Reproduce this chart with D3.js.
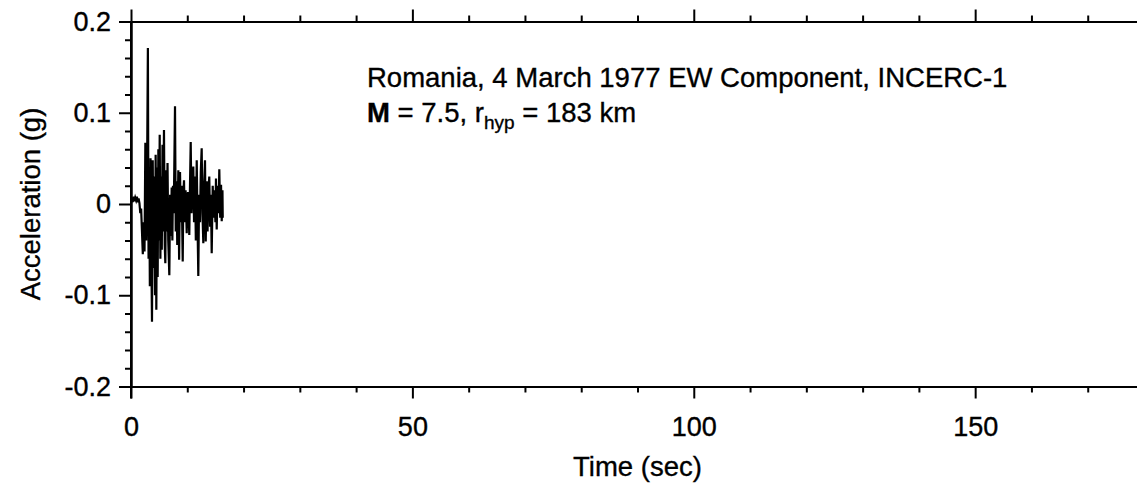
<!DOCTYPE html>
<html>
<head>
<meta charset="utf-8">
<script src="https://cdn.jsdelivr.net/npm/d3@7/dist/d3.min.js"></script>
<style>
  html, body { margin: 0; padding: 0; background: #fff; }
  svg { display: block; }
  text { font-family: "Liberation Sans", Arial, Helvetica, sans-serif; fill: #000; stroke: #000; stroke-width: 0.35px; }
</style>
</head>
<body>
<svg id="chart" width="1137" height="485"></svg>
<script>
// Accelerogram: Vrancea earthquake, 4 March 1977, EW component at INCERC-1 (Bucharest)
const timeSec = [
  0.00, 0.15, 0.30, 0.45, 0.60, 0.75, 0.90, 1.05, 1.20, 1.35,
  1.50, 1.65, 1.80, 1.95, 2.10, 2.25, 2.40, 2.55, 2.70, 2.85,
  3.00, 3.12, 3.25, 3.35, 3.47, 3.60, 3.73, 3.86, 4.00, 4.12,
  4.27, 4.38, 4.50, 4.62, 4.74, 4.86, 4.98, 5.10, 5.22, 5.35,
  5.47, 5.60, 5.72, 5.86, 6.00, 6.10, 6.22, 6.35, 6.49, 6.62,
  6.81, 6.95, 7.08, 7.23, 7.35, 7.46, 7.60, 7.82, 7.95, 8.09,
  8.22, 8.41, 8.55, 8.71, 8.85, 9.00, 9.19, 9.30, 9.42, 9.55,
  9.70, 9.90, 10.00, 10.13, 10.25, 10.36, 10.48, 10.61, 10.75, 10.90,
  11.07, 11.20, 11.37, 11.52, 11.68, 11.82, 11.96, 12.10, 12.26, 12.40,
  12.56, 12.70, 12.85, 13.00, 13.15, 13.28, 13.45, 13.60, 13.75, 13.91,
  14.05, 14.20, 14.34, 14.52, 14.68, 14.84, 15.00, 15.10, 15.23, 15.38,
  15.55, 15.69, 15.85, 16.00, 16.12, 16.25, 16.30
];
const accelG = [
  0.004, 0.007, 0.002, 0.008, 0.003, 0.007, 0.004, 0.008, 0.002, 0.006,
  0.001, -0.010, -0.005, -0.030, -0.055, -0.020, -0.052, 0.067, -0.040, 0.030,
  0.171, -0.060, 0.020, -0.090, 0.050, -0.050, -0.129, 0.048, -0.070, 0.030,
  -0.100, 0.054, -0.116, 0.040, -0.080, 0.060, -0.040, 0.076, -0.060, 0.030,
  -0.050, 0.065, -0.030, 0.081, -0.045, -0.065, 0.037, -0.030, 0.045, -0.040,
  -0.078, 0.010, -0.035, 0.018, -0.040, 0.020, -0.010, 0.107, -0.030, 0.025,
  -0.045, 0.037, -0.061, 0.035, -0.020, 0.020, -0.063, 0.010, 0.026, -0.020,
  0.015, -0.032, 0.005, 0.013, -0.015, -0.034, 0.020, 0.068, -0.010, 0.020,
  0.041, -0.020, 0.030, -0.040, 0.048, -0.020, -0.079, 0.010, -0.020, 0.035,
  0.061, -0.010, -0.043, 0.020, 0.048, -0.041, 0.025, -0.030, 0.015, 0.030,
  -0.025, 0.010, -0.054, 0.020, -0.015, 0.015, -0.020, 0.028, -0.028, 0.020,
  -0.010, 0.038, -0.015, 0.021, -0.019, 0.015, -0.015
];
const xMajorTicks = [0, 50, 100, 150];
const yMajorTicks = [-0.2, -0.1, 0, 0.1, 0.2];
const yTickLabels = ["-0.2", "-0.1", "0", "0.1", "0.2"];
const titleLine = "Romania, 4 March 1977 EW Component, INCERC-1";
const xTitle = "Time (sec)";
const yTitle = "Acceleration (g)";

const svg = d3.select("#chart");
const plot = { left: 131, right: 1144, top: 21.5, bottom: 386.5 };

const x = d3.scaleLinear().domain([0, 180]).range([plot.left, plot.right]);
const y = d3.scaleLinear().domain([-0.2, 0.2]).range([plot.bottom, plot.top]);

const xMinor = d3.range(0, 181, 10).filter(v => v % 50 !== 0);
const yMinor = d3.range(-0.2, 0.2001, 0.02).map(v => +v.toFixed(2))
  .filter(v => Math.abs(Math.round(v * 10) - v * 10) > 1e-6);

function styleAxis(g) {
  g.selectAll("path.domain").attr("stroke", "#000").attr("stroke-width", 2);
  g.selectAll(".tick line").attr("stroke", "#000").attr("stroke-width", 2);
}

// bottom axis: minor then major with labels
svg.append("g").attr("transform", `translate(0,${plot.bottom})`)
  .call(d3.axisBottom(x).tickValues(xMinor).tickSize(6).tickFormat("").tickSizeOuter(0))
  .call(styleAxis);
svg.append("g").attr("transform", `translate(0,${plot.bottom})`)
  .call(d3.axisBottom(x).tickValues(xMajorTicks).tickSize(12).tickPadding(18).tickSizeOuter(0))
  .call(styleAxis)
  .call(g => g.selectAll(".tick text").style("font-size", "27px").attr("fill", "#000"));

// top axis ticks
svg.append("g").attr("transform", `translate(0,${plot.top})`)
  .call(d3.axisTop(x).tickValues(xMinor).tickSize(6).tickFormat("").tickSizeOuter(0))
  .call(styleAxis);
svg.append("g").attr("transform", `translate(0,${plot.top})`)
  .call(d3.axisTop(x).tickValues(xMajorTicks).tickSize(12).tickFormat("").tickSizeOuter(0))
  .call(styleAxis);

// left axis
svg.append("g").attr("transform", `translate(${plot.left},0)`)
  .call(d3.axisLeft(y).tickValues(yMinor).tickSize(6).tickFormat("").tickSizeOuter(0))
  .call(styleAxis);
svg.append("g").attr("transform", `translate(${plot.left},0)`)
  .call(d3.axisLeft(y).tickValues(yMajorTicks).tickSize(12).tickPadding(8).tickSizeOuter(0)
    .tickFormat((d, i) => yTickLabels[i]))
  .call(styleAxis)
  .call(g => g.selectAll(".tick text").style("font-size", "27px").attr("fill", "#000"));

// extend left axis line slightly below the bottom axis
svg.append("line")
  .attr("x1", plot.left).attr("x2", plot.left)
  .attr("y1", plot.top).attr("y2", plot.bottom + 12)
  .attr("stroke", "#000").attr("stroke-width", 2);

// acceleration trace
const pts = timeSec.map((t, i) => [t, accelG[i]]);
svg.append("path")
  .datum(pts)
  .attr("fill", "none")
  .attr("stroke", "#000")
  .attr("stroke-width", 2.2)
  .attr("stroke-linejoin", "miter")
  .attr("d", d3.line().x(d => x(d[0])).y(d => y(d[1])));

// axis titles
svg.append("text")
  .attr("x", (plot.left + plot.right) / 2).attr("y", 476)
  .attr("text-anchor", "middle").style("font-size", "27.5px")
  .text(xTitle);
svg.append("text")
  .attr("transform", `translate(40,${(plot.top + plot.bottom) / 2}) rotate(-90)`)
  .attr("text-anchor", "middle").style("font-size", "27.5px")
  .text(yTitle);

// annotation
svg.append("text").attr("x", 367).attr("y", 87).style("font-size", "27.5px").text(titleLine);
const line2 = svg.append("text").attr("x", 367).attr("y", 122).style("font-size", "27.5px");
line2.append("tspan").style("font-weight", "bold").text("M");
line2.append("tspan").text(" = 7.5, r");
line2.append("tspan").attr("dy", 7).style("font-size", "19px").text("hyp");
line2.append("tspan").attr("dy", -7).text(" = 183 km");
</script>
</body>
</html>
